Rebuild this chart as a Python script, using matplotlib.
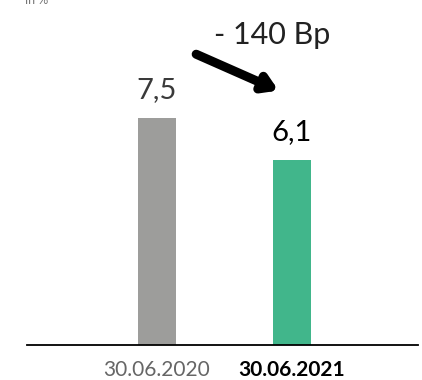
import matplotlib.pyplot as plt
import numpy as np

plt.rcParams['font.family'] = ['Lato', 'DejaVu Sans']

dates = ["30.06.2020", "30.06.2021"]
values = [7.5, 6.1]
labels = ["7,5", "6,1"]
colors = ["#9d9d9b", "#41b68b"]
change = "- 140 Bp"

fig = plt.figure(figsize=(4.22, 3.80), dpi=100)
ax = fig.add_axes([27/422, 35/380, 391/422, 345/380])

x = np.arange(len(values))
ax.bar(x, values, width=0.281, color=colors)

# value labels
ax.text(x[0], values[0] + 0.5, labels[0], ha='center', va='bottom',
        fontsize=21, color='#3a3a3a')
ax.text(x[1], values[1] + 0.5, labels[1], ha='center', va='bottom',
        fontsize=21, color='black')

# change arrow
ax.annotate("", xy=(0.9, 8.4), xytext=(0.29, 9.6),
            arrowprops=dict(arrowstyle='-|>,head_length=0.8,head_width=0.5',
                            color='black', lw=6.5, shrinkA=0, shrinkB=0))
ax.text(0.85, 10.25, change, ha='center', va='center', fontsize=22,
        color='#222222')

ax.set_xlim(-0.963, 1.933)
ax.set_ylim(0, 11.39)
ax.set_xticks(x)
ax.set_xticklabels(dates)
tl = ax.get_xticklabels()
tl[0].set_color('#666666')
tl[1].set_fontweight('bold')
tl[1].set_color('black')
ax.tick_params(axis='x', length=0, labelsize=15, pad=11)
ax.set_yticks([])
for s in ['top', 'left', 'right']:
    ax.spines[s].set_visible(False)
ax.spines['bottom'].set_linewidth(1.3)

fig.text(0.06, 1.0, "in %", ha='left', va='center', fontsize=9, color='#777777')

fig.savefig("out.png", dpi=100)
